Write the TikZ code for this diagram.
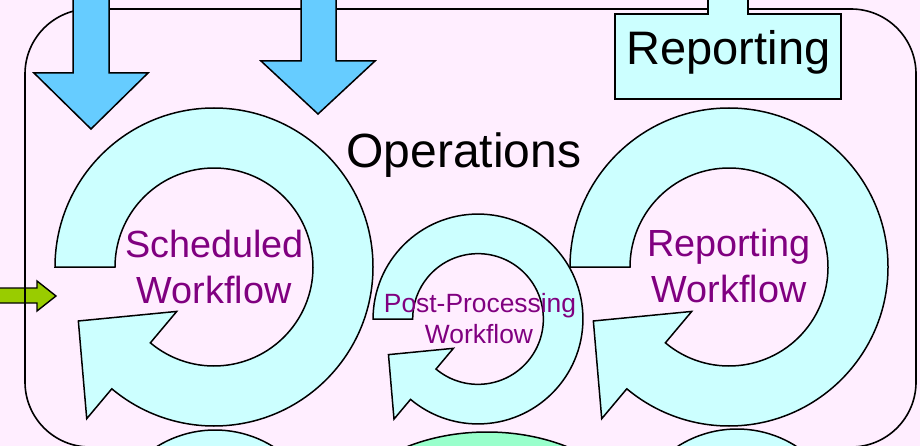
\documentclass[tikz,border=0pt]{standalone}
\usepackage{fontspec}
\setmainfont{Liberation Sans}

\definecolor{bgpink}{RGB}{255,238,255}
\definecolor{ringcyan}{RGB}{204,255,255}
\definecolor{flowblue}{RGB}{102,204,255}
\definecolor{feedgreen}{RGB}{153,204,0}
\definecolor{mint}{RGB}{153,255,204}
\definecolor{wfpurple}{RGB}{128,0,128}

\tikzset{
  outline/.style={draw=black, line width=1.5pt, line join=miter},
  ringfill/.style={outline, fill=ringcyan},
  % circular arrow: ring open at 9 o'clock, head at about 8 o'clock
  cycle arrow/.pic={
    \path[ringfill] (180:159) arc[start angle=180, end angle=-130, radius=159]
      -- (230:198) -- (201.7:146) -- (230:58) -- (230:99)
      arc[start angle=-130, end angle=180, radius=99] -- cycle;
  },
  bigtext/.style={font=\fontsize{47}{56}\selectfont, inner sep=0pt, anchor=base},
  wftext/.style={font=\fontsize{37.8}{45}\selectfont, text=wfpurple, inner sep=0pt, anchor=base},
  smallwf/.style={font=\fontsize{26.4}{31}\selectfont, text=wfpurple, inner sep=0pt, anchor=base},
}

\begin{document}
\begin{tikzpicture}[x=1pt, y=1pt]
  \fill[bgpink] (0,0) rectangle (920,-446);
  \useasboundingbox (0,0) rectangle (920,-446);
  \clip (0,0) rectangle (920,-446);

  % incoming feed arrow on the left
  \path[outline, fill=feedgreen, line width=1.4pt]
    (-5,-288) -- (37,-288) -- (37,-281) -- (56,-296) -- (37,-311)
    -- (37,-303) -- (-5,-303) -- cycle;

  % Operations frame
  \draw[line width=1.6pt, rounded corners=65pt] (25,-9) rectangle (916,-447);

  % shapes peeking in from below
  \path[ringfill] (215,-540) circle[radius=110];
  \path[outline, fill=mint] (487,-542) ellipse[x radius=160, y radius=110];
  \path[ringfill] (737,-539) circle[radius=110];

  % workflow cycles
  \pic at (214,-267) {cycle arrow};
  \pic at (729,-267) {cycle arrow};
  \pic[scale=0.66] at (478,-319) {cycle arrow};

  % downward inputs
  \path[outline, fill=flowblue]
    (73,5) -- (73,-73) -- (34,-73) -- (91,-129) -- (148,-73) -- (109,-73) -- (109,5) -- cycle;
  \path[outline, fill=flowblue]
    (301,5) -- (301,-61) -- (261,-61) -- (318,-114) -- (375,-61) -- (336,-61) -- (336,5) -- cycle;

  % Reporting box with its stem
  \path[outline, fill=ringcyan]
    (708,5) -- (708,-14) -- (615,-14) -- (615,-99) -- (841,-99) -- (841,-14)
    -- (748,-14) -- (748,5) -- cycle;
  \node[bigtext] (reportbox) at (728.5,-65) {Reporting};

  % labels
  \node[bigtext, font=\fontsize{48}{57}\selectfont] (ops) at (464,-168) {Operations};
  \node[wftext] (sched1) at (214.5,-258) {Scheduled};
  \node[wftext] (sched2) at (214,-303) {Workflow};
  \node[wftext] (rep1) at (729,-256) {Reporting};
  \node[wftext] (rep2) at (729,-302) {Workflow};
  \node[smallwf] (post1) at (480,-312) {Post-Processing};
  \node[smallwf] (post2) at (479,-343) {Workflow};
\end{tikzpicture}
\end{document}
